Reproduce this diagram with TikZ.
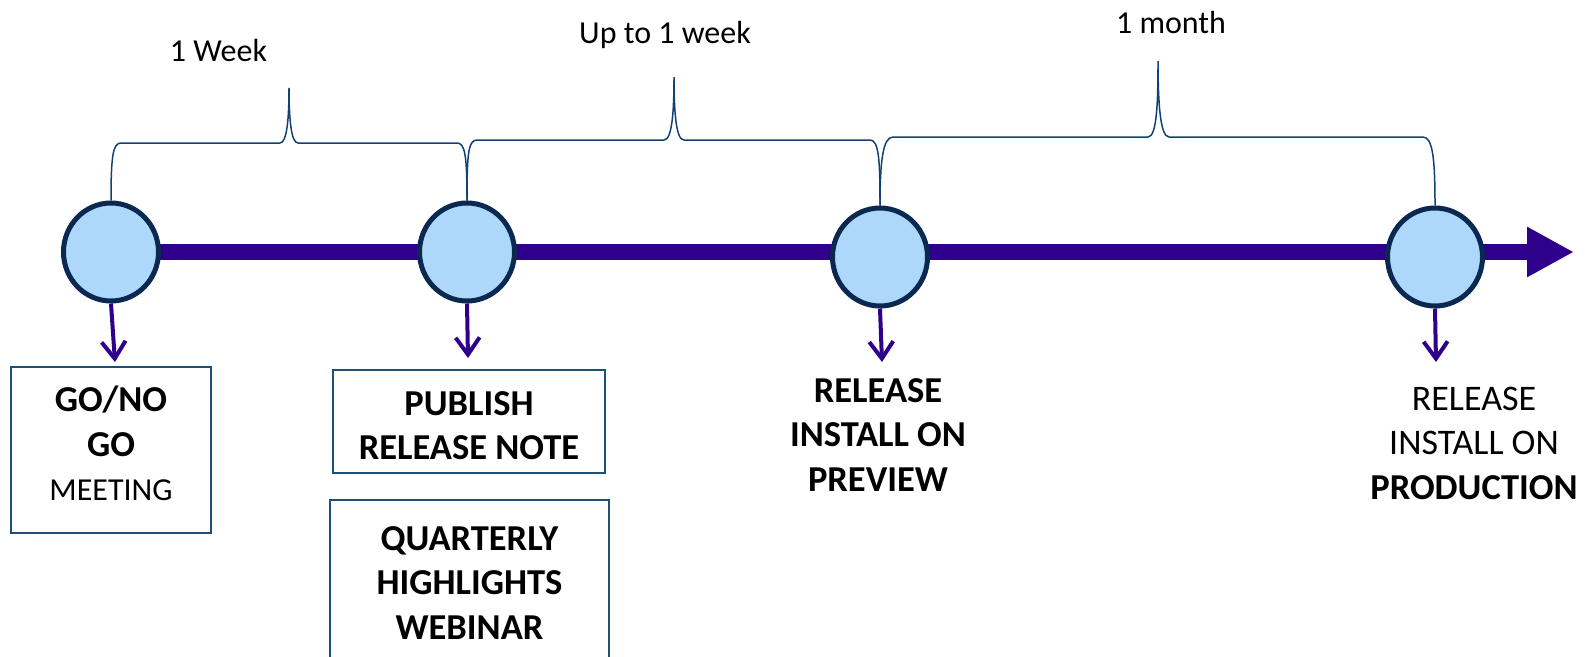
\documentclass[tikz,border=0pt]{standalone}
\usepackage{fontspec}
\setmainfont{Carlito}
\usetikzlibrary{arrows.meta,shapes.geometric,backgrounds}
\definecolor{lineC}{RGB}{46,0,139}
\definecolor{fillC}{RGB}{173,216,252}
\definecolor{rimC}{RGB}{10,40,80}
\definecolor{braceC}{RGB}{20,65,115}
\definecolor{boxC}{RGB}{31,78,121}
\newcommand\bigbold[1]{{\fontsize{36.5}{44.5}\selectfont\bfseries #1}}
\newcommand\bigreg[1]{{\fontsize{32}{44.5}\selectfont #1}}
\newcommand\largereg[1]{{\fontsize{36}{44.5}\selectfont #1}}
\begin{document}
\begin{tikzpicture}[x=1pt,y=-1pt,
  milestone/.style={ellipse, draw=rimC, fill=fillC, line width=5pt, minimum width=95pt, minimum height=98pt, inner sep=0pt},
  timeline/.style={draw=lineC, line width=16pt, -{Triangle[length=47pt,width=47pt]}},
  drop/.style={draw=lineC, line width=4pt, -{Straight Barb[length=17pt,width=24pt]}},
  brace/.style={draw=braceC, line width=1.5pt},
  box/.style={draw=boxC, line width=2pt, rectangle, inner sep=0pt},
  bigtxt/.style={font=\fontsize{34}{44.5}\selectfont, align=center, inner sep=0pt, text=black},
  lbl/.style={font=\fontsize{32}{36}\selectfont, inner sep=0pt, anchor=base, text=black}]
\useasboundingbox (0,0) rectangle (1592,656);

% milestones
\node[milestone] (m1) at (111,252) {};
\node[milestone] (m2) at (467,252) {};
\node[milestone] (m3) at (880,257) {};
\node[milestone] (m4) at (1435,257) {};
\coordinate (tip) at (1574,252);

\begin{scope}[on background layer]
  \draw[timeline] (m1.center) -- (tip);
\end{scope}

% drop arrows
\coordinate (d1) at (115,362);
\coordinate (d2) at (468,358);
\coordinate (d3) at (882,362);
\coordinate (d4) at (1436,362);
\draw[drop] (m1.south) -- (d1);
\draw[drop] (m2.south) -- (d2);
\draw[drop] (m3.south) -- (d3);
\draw[drop] (m4.south) -- (d4);

% braces
\draw[brace] (m1.north) .. controls +(0,-45) and +(-8,0) .. (121,143) -- (280,143)
  .. controls +(7,0) and +(0,30) .. (289,88)
  .. controls +(0,30) and +(-7,0) .. (298,143) -- (457,143)
  .. controls +(8,0) and +(0,-45) .. (m2.north);
\draw[brace] (m2.north) .. controls +(0,-45) and +(-9,0) .. (477,140) -- (664,140)
  .. controls +(8,0) and +(0,35) .. (674,77)
  .. controls +(0,35) and +(-8,0) .. (684,140) -- (870,140)
  .. controls +(9,0) and +(0,-45) .. (m3.north);
\draw[brace] (m3.north) .. controls +(0,-45) and +(-10,0) .. (893,137) -- (1148,137)
  .. controls +(9,0) and +(0,40) .. (1158,61)
  .. controls +(0,40) and +(-9,0) .. (1169,137) -- (1423,137)
  .. controls +(10,0) and +(0,-45) .. (m4.north);

% brace labels
\node[lbl] (l1) at (218.5,61.7) {1 Week};
\node[lbl] (l2) at (665,43.3) {Up to 1 week};
\node[lbl] (l3) at (1171,33.3) {1 month};

% boxes
\node[box, minimum width=200pt, minimum height=166pt] (b1) at (111,450) {};
\node[bigtxt] (t1) at (111,443.3) {\bigbold{GO/NO}\\\bigbold{GO}\\\bigreg{MEETING}};
\node[box, minimum width=272pt, minimum height=103pt] (b2) at (469,421.5) {};
\node[bigtxt] (t2) at (469,425.5) {\bigbold{PUBLISH}\\\bigbold{RELEASE NOTE}};
\node[box, minimum width=279pt, minimum height=166pt] (b3) at (469.5,583) {};
\node[bigtxt] (t3) at (469.5,583) {\bigbold{QUARTERLY}\\\bigbold{HIGHLIGHTS}\\\bigbold{WEBINAR}};

% free texts
\node[bigtxt] (t4) at (878,435) {\bigbold{RELEASE}\\\bigbold{INSTALL ON}\\\bigbold{PREVIEW}};
\node[bigtxt] (t5) at (1474,443) {\largereg{RELEASE}\\\largereg{INSTALL ON}\\\bigbold{PRODUCTION}};
\end{tikzpicture}
\end{document}
